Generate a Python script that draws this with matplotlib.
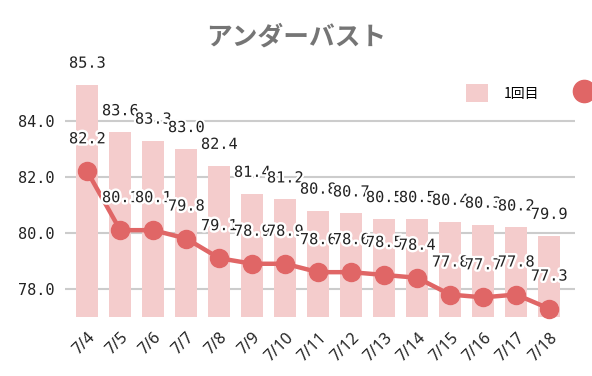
import matplotlib
matplotlib.use("Agg")
import matplotlib.pyplot as plt
import matplotlib.patheffects as pe
from matplotlib.patches import Patch
from matplotlib.lines import Line2D

BAR_COL = "#F4CCCC"
LINE_COL = "#E06666"

dates = ["7/4", "7/5", "7/6", "7/7", "7/8", "7/9", "7/10", "7/11",
         "7/12", "7/13", "7/14", "7/15", "7/16", "7/17", "7/18"]
first = [85.3, 83.6, 83.3, 83.0, 82.4, 81.4, 81.2, 80.8,
         80.7, 80.5, 80.5, 80.4, 80.3, 80.2, 79.9]
second = [82.2, 80.1, 80.1, 79.8, 79.1, 78.9, 78.9, 78.6,
          78.6, 78.5, 78.4, 77.8, 77.7, 77.8, 77.3]
yticks = [78.0, 80.0, 82.0, 84.0]

plt.rcParams["font.family"] = ["DejaVu Sans Mono", "Noto Sans CJK JP"]

fig = plt.figure(figsize=(5.92, 3.76), dpi=100)
ax = fig.add_axes([0.11, 0.157, 0.861, 0.633])

x = range(len(dates))
base = 77.0
ax.bar(x, [v - base for v in first], 0.67, bottom=base, color=BAR_COL,
       zorder=2, clip_on=False)
ax.plot(x, second, color=LINE_COL, linewidth=3.2, marker="o", markersize=13,
        zorder=3, clip_on=False)

for i, v in enumerate(first):
    ax.annotate(f"{v:.1f}", (i, v), textcoords="offset points", xytext=(0, 10),
                ha="center", va="bottom", fontsize=11, color="#222222", zorder=4,
                annotation_clip=False,
                path_effects=[pe.withStroke(linewidth=3, foreground="white")])
for i, v in enumerate(second):
    ax.annotate(f"{v:.1f}", (i, v), textcoords="offset points", xytext=(0, 18),
                ha="center", va="bottom", fontsize=11, color="#222222", zorder=5,
                annotation_clip=False,
                path_effects=[pe.withStroke(linewidth=3.5, foreground="white")])

ax.set_xlim(-0.67, 14.78)
ax.set_ylim(base, 85.5)
ax.set_yticks(yticks)
ax.set_yticklabels([f"{t:.1f}" for t in yticks], fontsize=11, color="#222222")
ax.set_xticks(list(x))
ax.set_xticklabels(dates, rotation=45, ha="right", rotation_mode="anchor",
                   fontsize=11.5, color="#222222", family=["Noto Sans"])
ax.tick_params(axis="x", length=0, pad=9)
ax.tick_params(axis="y", length=0, pad=8)
ax.grid(axis="y", color="#CCCCCC", linewidth=1.5, zorder=0)
ax.set_axisbelow(True)
for s in ax.spines.values():
    s.set_visible(False)

fig.text(0.5, 0.902, "アンダーバスト", ha="center", va="center", fontsize=18.5,
         color="#757575", fontweight="bold", family=["Noto Sans CJK JP"])

# the second legend entry runs off the right edge in the original
handles = [Patch(facecolor=BAR_COL, edgecolor="none"),
           Line2D([], [], color=LINE_COL, marker="o", markersize=16, linestyle="none")]
fig.legend(handles, ["1回目", ""], loc="center left",
           bbox_to_anchor=(466 / 592, 1 - 93 / 376), ncol=2, frameon=False,
           borderpad=0, borderaxespad=0, handlelength=1.6, handleheight=1.6,
           handletextpad=1.15, columnspacing=2.4,
           prop={"family": ["Noto Sans CJK JP"], "size": 10})

fig.savefig("out.png", dpi=100)
